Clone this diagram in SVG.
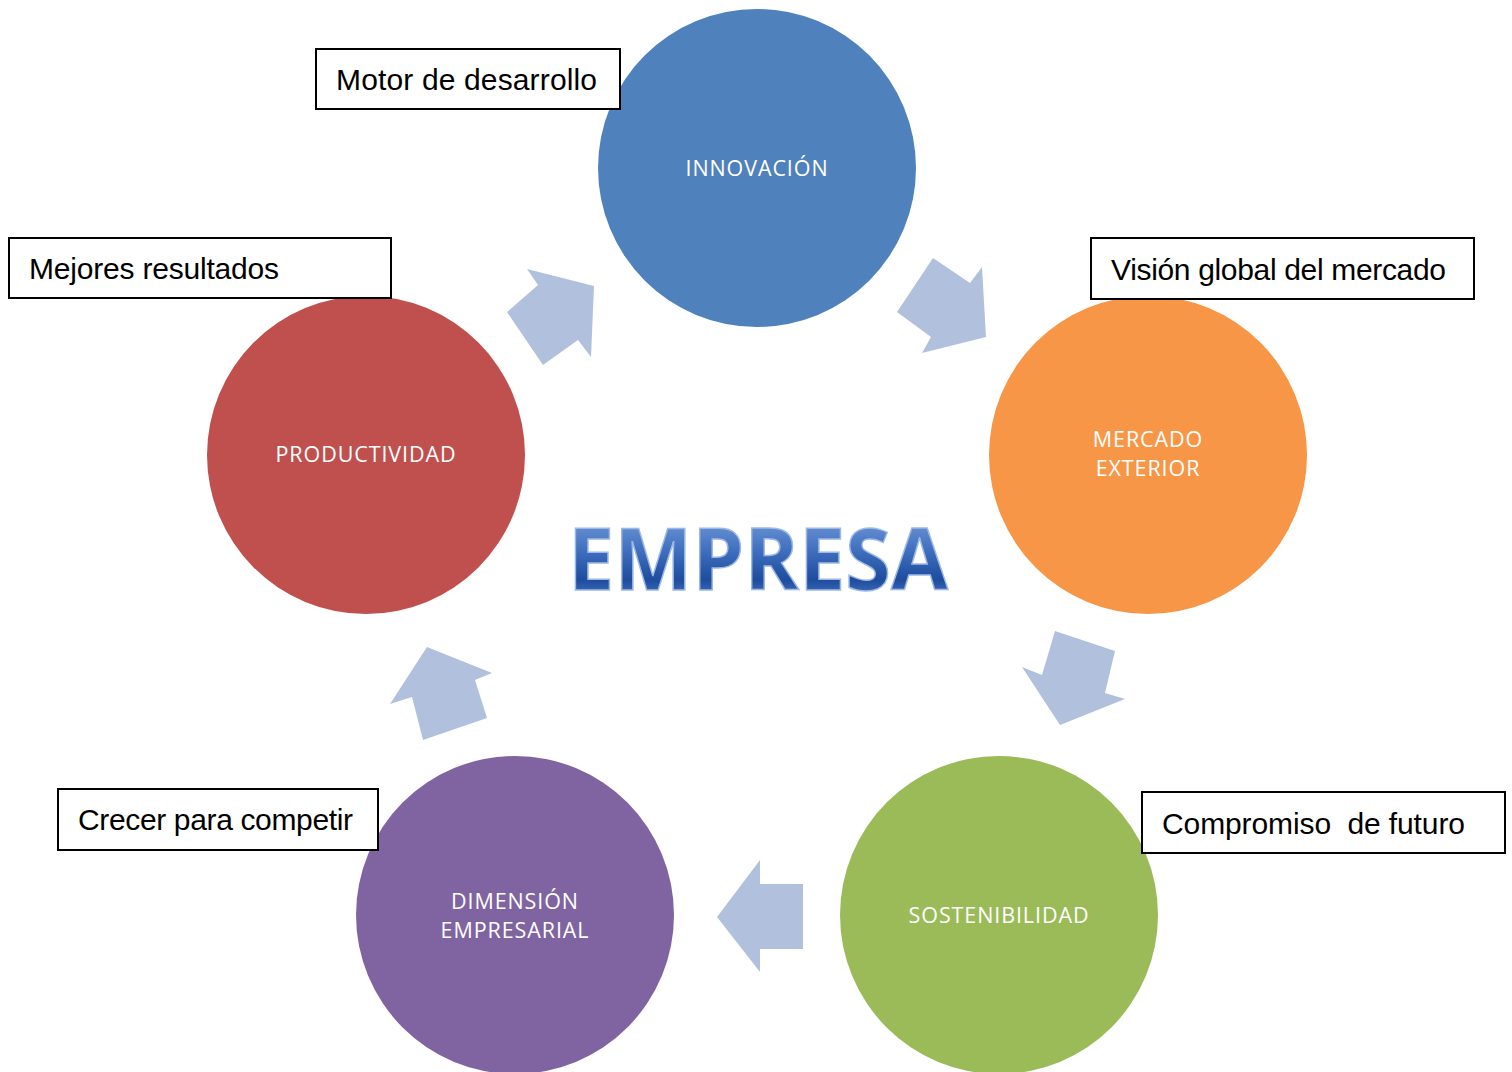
<svg xmlns="http://www.w3.org/2000/svg" width="1512" height="1072" viewBox="0 0 1512 1072">
<defs>
<linearGradient id="eg" x1="0" y1="0" x2="0" y2="1">
<stop offset="0" stop-color="#8DB0E4"/>
<stop offset="0.45" stop-color="#3F6FBE"/>
<stop offset="0.7" stop-color="#1E4C9E"/>
<stop offset="1" stop-color="#6E9BDA"/>
</linearGradient>
<style>
.ctext{font-family:"Open Sans","Liberation Sans",sans-serif;font-size:21.5px;letter-spacing:0.9px;fill:#ffffff;text-anchor:middle}
.lbox{fill:#ffffff;stroke:#000000;stroke-width:2}
.ltext{font-family:"Liberation Sans","DejaVu Sans",sans-serif;font-size:30px;fill:#000000;white-space:pre}
.arr{fill:#B1C1DD}
</style>
</defs>
<rect width="1512" height="1072" fill="#ffffff"/>
<g id="connectors">
<polygon class="arr" points="594,286 591,357 578,340 543,365 507,312 538,285 527,269"/>
<polygon class="arr" points="933,258 970,283 982,267 986,337 922,353 931,337 897,312"/>
<polygon class="arr" points="1055,631 1115,651 1105,693 1125,699 1060,725 1022,667 1042,675"/>
<polygon class="arr" points="427,647 492,673 475,680 487,718 423,740 412,697 390,704"/>
<polygon class="arr" points="717,917 760,860 760,884 803,884 803,949 760,949 760,972"/>
</g>
<g id="innovacion">
<circle cx="757" cy="168" r="159" fill="#4F81BD"/>
<text class="ctext" x="757" y="176">INNOVACIÓN</text>
</g>
<g id="mercado">
<circle cx="1148" cy="455" r="159" fill="#F79646"/>
<text class="ctext" x="1148" y="447">MERCADO</text>
<text class="ctext" x="1148" y="476">EXTERIOR</text>
</g>
<g id="sostenibilidad">
<circle cx="999" cy="915" r="159" fill="#9BBB59"/>
<text class="ctext" x="999" y="923">SOSTENIBILIDAD</text>
</g>
<g id="dimension">
<circle cx="515" cy="915" r="159" fill="#8064A2"/>
<text class="ctext" x="515" y="909">DIMENSIÓN</text>
<text class="ctext" x="515" y="938">EMPRESARIAL</text>
</g>
<g id="productividad">
<circle cx="366" cy="455" r="159" fill="#C0504D"/>
<text class="ctext" x="366" y="462">PRODUCTIVIDAD</text>
</g>
<g id="empresa">
<text x="568" y="590" font-family="'Open Sans','Liberation Sans',sans-serif" font-weight="bold" font-size="86" textLength="380" lengthAdjust="spacingAndGlyphs" fill="url(#eg)" stroke="#9DB8E6" stroke-width="1.5">EMPRESA</text>
</g>
<g id="label-motor">
<rect class="lbox" x="316" y="49" width="304" height="60"/>
<text class="ltext" x="336" y="90" textLength="261">Motor de desarrollo</text>
</g>
<g id="label-mejores">
<rect class="lbox" x="9" y="238" width="382" height="60"/>
<text class="ltext" x="29" y="279" textLength="250">Mejores resultados</text>
</g>
<g id="label-vision">
<rect class="lbox" x="1091" y="238" width="383" height="61"/>
<text class="ltext" x="1111" y="280" textLength="335">Visión global del mercado</text>
</g>
<g id="label-crecer">
<rect class="lbox" x="58" y="789" width="320" height="61"/>
<text class="ltext" x="78" y="830" textLength="275">Crecer para competir</text>
</g>
<g id="label-compromiso">
<rect class="lbox" x="1142" y="792" width="363" height="61"/>
<text class="ltext" x="1162" y="834" textLength="303">Compromiso  de futuro</text>
</g>
</svg>
